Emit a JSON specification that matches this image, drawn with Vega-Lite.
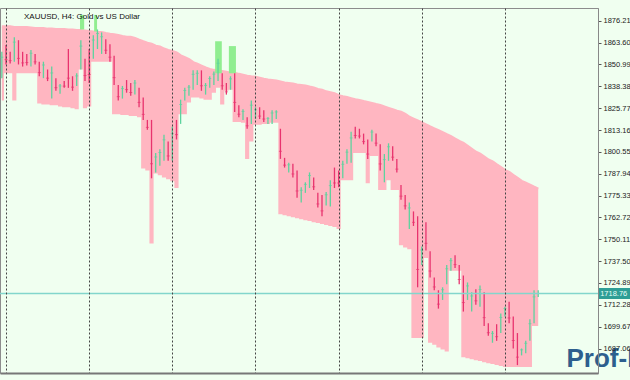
{
  "$schema": "https://vega.github.io/schema/vega-lite/v6.json",
  "width": 598,
  "height": 365,
  "autosize": {"type": "none"},
  "padding": {"left": 0, "top": 8, "right": 32, "bottom": 7},
  "background": "#F0FFF0",
  "config": {"view": {"stroke": "#8c8c8c", "strokeWidth": 1}, "axis": {"labelOverlap": false}},
  "title": {"text": "XAUUSD, H4:  Gold vs US Dollar", "anchor": "start", "frame": "group", "orient": "top", "offset": -12, "dy": 7, "dx": 24, "font": "Liberation Sans", "fontSize": 8, "fontWeight": "normal", "color": "#111111", "baseline": "alphabetic"},
  "datasets": {
    "bars": [
      {"t":0,"o":1846.9,"h":1858.3,"l":1843.1,"c":1855.2,"up":1872.8,"lo":1830.2},
      {"t":1,"o":1859.9,"h":1862.2,"l":1851.0,"c":1853.8,"up":1872.8,"lo":1845.9},
      {"t":2,"o":1856.9,"h":1858.3,"l":1851.5,"c":1853.2,"up":1872.8,"lo":1845.9},
      {"t":3,"o":1856.1,"h":1866.7,"l":1852.6,"c":1863.9,"up":1872.3,"lo":1830.2},
      {"t":4,"o":1862.2,"h":1865.0,"l":1851.0,"c":1854.5,"up":1872.3,"lo":1845.9},
      {"t":5,"o":1856.6,"h":1858.3,"l":1849.8,"c":1851.9,"up":1872.3,"lo":1845.9},
      {"t":6,"o":1855.8,"h":1857.1,"l":1850.4,"c":1852.1,"up":1872.3,"lo":1845.9},
      {"t":7,"o":1852.2,"h":1859.4,"l":1849.8,"c":1857.5,"up":1872.0,"lo":1845.9},
      {"t":8,"o":1855.9,"h":1857.1,"l":1851.0,"c":1852.5,"up":1871.7,"lo":1845.9},
      {"t":9,"o":1850.9,"h":1852.6,"l":1844.2,"c":1846.3,"up":1871.7,"lo":1828.5},
      {"t":10,"o":1845.5,"h":1852.6,"l":1843.1,"c":1850.7,"up":1871.7,"lo":1827.9},
      {"t":11,"o":1846.8,"h":1848.1,"l":1841.4,"c":1843.1,"up":1871.4,"lo":1827.9},
      {"t":12,"o":1835.9,"h":1849.8,"l":1831.3,"c":1846.1,"up":1871.4,"lo":1827.4},
      {"t":13,"o":1841.6,"h":1843.1,"l":1835.8,"c":1837.6,"up":1871.2,"lo":1827.4},
      {"t":14,"o":1835.5,"h":1839.7,"l":1834.1,"c":1838.6,"up":1871.2,"lo":1826.8},
      {"t":15,"o":1840.6,"h":1841.4,"l":1837.5,"c":1838.5,"up":1871.2,"lo":1826.3},
      {"t":16,"o":1855.4,"h":1859.9,"l":1837.5,"c":1843.1,"up":1870.9,"lo":1826.3},
      {"t":17,"o":1842.5,"h":1844.2,"l":1835.8,"c":1837.9,"up":1870.9,"lo":1825.7},
      {"t":18,"o":1840.4,"h":1845.9,"l":1838.6,"c":1844.4,"up":1870.6,"lo":1825.1},
      {"t":19,"o":1852.3,"h":1865.0,"l":1848.1,"c":1861.6,"up":1870.6,"lo":1848.1},
      {"t":20,"o":1851.7,"h":1854.3,"l":1841.4,"c":1844.6,"up":1870.3,"lo":1825.7},
      {"t":21,"o":1856.0,"h":1859.9,"l":1840.3,"c":1845.2,"up":1870.0,"lo":1826.8},
      {"t":22,"o":1857.7,"h":1867.8,"l":1854.3,"c":1865.1,"up":1869.8,"lo":1852.6},
      {"t":23,"o":1862.7,"h":1871.2,"l":1859.9,"c":1868.9,"up":1869.5,"lo":1852.6},
      {"t":24,"o":1860.2,"h":1869.5,"l":1857.1,"c":1867.0,"up":1869.5,"lo":1852.6},
      {"t":25,"o":1863.9,"h":1865.5,"l":1857.1,"c":1859.2,"up":1868.9,"lo":1852.6},
      {"t":26,"o":1860.7,"h":1862.7,"l":1852.6,"c":1855.2,"up":1868.4,"lo":1852.6},
      {"t":27,"o":1852.6,"h":1856.0,"l":1839.2,"c":1843.4,"up":1868.1,"lo":1822.3},
      {"t":28,"o":1837.4,"h":1839.2,"l":1830.2,"c":1832.4,"up":1867.8,"lo":1822.3},
      {"t":29,"o":1833.1,"h":1838.6,"l":1831.3,"c":1837.1,"up":1867.2,"lo":1821.8},
      {"t":30,"o":1840.5,"h":1842.0,"l":1834.7,"c":1836.5,"up":1866.7,"lo":1821.8},
      {"t":31,"o":1838.8,"h":1840.3,"l":1833.0,"c":1834.8,"up":1866.7,"lo":1821.2},
      {"t":32,"o":1835.7,"h":1842.0,"l":1833.6,"c":1840.3,"up":1866.1,"lo":1821.2},
      {"t":33,"o":1835.2,"h":1837.5,"l":1826.3,"c":1829.1,"up":1865.0,"lo":1820.6},
      {"t":34,"o":1829.3,"h":1831.9,"l":1819.0,"c":1822.2,"up":1864.1,"lo":1790.9},
      {"t":35,"o":1817.8,"h":1819.0,"l":1813.3,"c":1814.7,"up":1863.3,"lo":1789.8},
      {"t":36,"o":1812.2,"h":1819.0,"l":1785.3,"c":1793.7,"up":1862.7,"lo":1747.7},
      {"t":37,"o":1791.5,"h":1799.9,"l":1788.7,"c":1797.6,"up":1861.6,"lo":1788.1},
      {"t":38,"o":1795.0,"h":1802.1,"l":1792.6,"c":1800.2,"up":1861.1,"lo":1787.0},
      {"t":39,"o":1799.2,"h":1810.5,"l":1795.4,"c":1807.5,"up":1859.9,"lo":1785.8},
      {"t":40,"o":1804.4,"h":1806.6,"l":1795.4,"c":1798.2,"up":1859.1,"lo":1784.7},
      {"t":41,"o":1800.3,"h":1815.0,"l":1795.4,"c":1811.1,"up":1858.5,"lo":1783.6},
      {"t":42,"o":1816.7,"h":1819.0,"l":1807.7,"c":1810.5,"up":1857.7,"lo":1779.7},
      {"t":43,"o":1820.2,"h":1830.7,"l":1816.7,"c":1827.9,"up":1856.0,"lo":1822.3},
      {"t":44,"o":1832.0,"h":1837.5,"l":1830.2,"c":1836.0,"up":1854.9,"lo":1822.3},
      {"t":45,"o":1834.5,"h":1839.2,"l":1833.0,"c":1837.9,"up":1853.8,"lo":1829.1},
      {"t":46,"o":1839.2,"h":1847.6,"l":1836.4,"c":1845.3,"up":1852.1,"lo":1831.9},
      {"t":47,"o":1841.3,"h":1847.6,"l":1839.2,"c":1845.9,"up":1851.2,"lo":1831.9},
      {"t":48,"o":1845.2,"h":1847.6,"l":1835.8,"c":1838.7,"up":1850.1,"lo":1831.3},
      {"t":49,"o":1835.2,"h":1840.3,"l":1833.6,"c":1838.9,"up":1849.0,"lo":1830.7},
      {"t":50,"o":1839.2,"h":1844.2,"l":1837.5,"c":1842.9,"up":1848.1,"lo":1830.7},
      {"t":51,"o":1841.1,"h":1847.0,"l":1839.2,"c":1845.4,"up":1847.6,"lo":1834.7},
      {"t":52,"o":1844.6,"h":1854.3,"l":1841.4,"c":1851.7,"up":1847.3,"lo":1837.5},
      {"t":53,"o":1844.0,"h":1845.9,"l":1836.4,"c":1838.7,"up":1847.0,"lo":1827.9},
      {"t":54,"o":1838.9,"h":1840.3,"l":1833.6,"c":1835.2,"up":1846.5,"lo":1835.8},
      {"t":55,"o":1838.3,"h":1844.2,"l":1836.4,"c":1842.7,"up":1845.9,"lo":1836.4},
      {"t":56,"o":1841.4,"h":1845.9,"l":1823.5,"c":1829.1,"up":1845.9,"lo":1817.8},
      {"t":57,"o":1826.0,"h":1827.4,"l":1820.6,"c":1822.3,"up":1845.3,"lo":1817.8},
      {"t":58,"o":1820.5,"h":1825.1,"l":1819.0,"c":1823.9,"up":1844.8,"lo":1817.3},
      {"t":59,"o":1819.3,"h":1820.6,"l":1813.9,"c":1815.6,"up":1844.2,"lo":1796.5},
      {"t":60,"o":1820.1,"h":1830.2,"l":1816.7,"c":1827.5,"up":1843.9,"lo":1806.6},
      {"t":61,"o":1821.2,"h":1826.3,"l":1819.5,"c":1824.9,"up":1843.7,"lo":1816.2},
      {"t":62,"o":1824.9,"h":1826.3,"l":1819.5,"c":1821.2,"up":1843.1,"lo":1816.2},
      {"t":63,"o":1823.2,"h":1824.6,"l":1817.8,"c":1819.5,"up":1842.5,"lo":1816.7},
      {"t":64,"o":1817.7,"h":1820.6,"l":1816.7,"c":1819.9,"up":1842.0,"lo":1816.7},
      {"t":65,"o":1818.7,"h":1824.6,"l":1816.7,"c":1823.0,"up":1841.7,"lo":1817.3},
      {"t":66,"o":1820.8,"h":1824.6,"l":1819.5,"c":1823.6,"up":1841.4,"lo":1817.3},
      {"t":67,"o":1810.4,"h":1813.9,"l":1796.5,"c":1800.9,"up":1840.9,"lo":1764.5},
      {"t":68,"o":1796.0,"h":1797.1,"l":1791.5,"c":1792.9,"up":1840.3,"lo":1764.0},
      {"t":69,"o":1790.1,"h":1794.3,"l":1788.7,"c":1793.1,"up":1840.0,"lo":1763.4},
      {"t":70,"o":1792.1,"h":1793.7,"l":1785.8,"c":1787.8,"up":1839.7,"lo":1762.8},
      {"t":71,"o":1786.6,"h":1789.8,"l":1774.1,"c":1778.0,"up":1839.2,"lo":1762.3},
      {"t":72,"o":1773.5,"h":1780.2,"l":1771.3,"c":1778.4,"up":1838.9,"lo":1761.7},
      {"t":73,"o":1778.4,"h":1783.0,"l":1776.9,"c":1781.8,"up":1838.6,"lo":1761.1},
      {"t":74,"o":1781.9,"h":1788.7,"l":1779.7,"c":1786.9,"up":1838.0,"lo":1760.6},
      {"t":75,"o":1784.4,"h":1785.8,"l":1778.6,"c":1780.4,"up":1837.5,"lo":1760.0},
      {"t":76,"o":1775.2,"h":1776.9,"l":1768.4,"c":1770.5,"up":1836.6,"lo":1759.5},
      {"t":77,"o":1773.3,"h":1775.7,"l":1763.4,"c":1766.5,"up":1836.1,"lo":1758.9},
      {"t":78,"o":1771.5,"h":1777.4,"l":1769.6,"c":1775.8,"up":1835.2,"lo":1758.3},
      {"t":79,"o":1772.8,"h":1784.2,"l":1769.0,"c":1781.1,"up":1834.7,"lo":1757.8},
      {"t":80,"o":1789.1,"h":1791.5,"l":1779.7,"c":1782.6,"up":1834.1,"lo":1757.2},
      {"t":81,"o":1787.9,"h":1789.8,"l":1780.2,"c":1782.6,"up":1833.0,"lo":1756.1},
      {"t":82,"o":1787.8,"h":1795.4,"l":1785.3,"c":1793.4,"up":1832.4,"lo":1784.2},
      {"t":83,"o":1795.8,"h":1802.1,"l":1793.7,"c":1800.4,"up":1831.9,"lo":1784.2},
      {"t":84,"o":1798.8,"h":1812.2,"l":1794.3,"c":1808.6,"up":1831.3,"lo":1784.2},
      {"t":85,"o":1813.7,"h":1815.0,"l":1808.3,"c":1810.0,"up":1830.7,"lo":1799.9},
      {"t":86,"o":1812.8,"h":1813.9,"l":1808.3,"c":1809.7,"up":1830.2,"lo":1799.9},
      {"t":87,"o":1809.9,"h":1811.1,"l":1804.9,"c":1806.5,"up":1829.6,"lo":1799.9},
      {"t":88,"o":1805.5,"h":1807.7,"l":1796.5,"c":1799.3,"up":1829.1,"lo":1782.5},
      {"t":89,"o":1808.3,"h":1813.3,"l":1806.6,"c":1812.0,"up":1828.5,"lo":1798.2},
      {"t":90,"o":1809.6,"h":1811.1,"l":1803.8,"c":1805.6,"up":1827.9,"lo":1798.2},
      {"t":91,"o":1801.9,"h":1804.9,"l":1789.8,"c":1793.6,"up":1827.4,"lo":1778.6},
      {"t":92,"o":1787.1,"h":1799.3,"l":1783.0,"c":1796.1,"up":1826.5,"lo":1778.6},
      {"t":93,"o":1797.9,"h":1805.5,"l":1795.4,"c":1803.5,"up":1825.7,"lo":1784.2},
      {"t":94,"o":1802.1,"h":1803.8,"l":1795.4,"c":1797.5,"up":1824.9,"lo":1778.6},
      {"t":95,"o":1794.9,"h":1796.5,"l":1788.7,"c":1790.6,"up":1824.0,"lo":1778.6},
      {"t":96,"o":1779.7,"h":1781.4,"l":1772.9,"c":1775.0,"up":1823.5,"lo":1746.6},
      {"t":97,"o":1774.1,"h":1775.7,"l":1767.3,"c":1769.4,"up":1822.3,"lo":1745.4},
      {"t":98,"o":1759.9,"h":1771.3,"l":1756.1,"c":1768.2,"up":1820.6,"lo":1744.3},
      {"t":99,"o":1764.5,"h":1766.2,"l":1757.8,"c":1759.9,"up":1819.5,"lo":1693.2},
      {"t":100,"o":1755.2,"h":1763.4,"l":1722.4,"c":1732.7,"up":1818.4,"lo":1693.2},
      {"t":101,"o":1738.0,"h":1746.0,"l":1735.3,"c":1743.9,"up":1817.3,"lo":1693.2},
      {"t":102,"o":1756.8,"h":1760.0,"l":1743.7,"c":1747.8,"up":1816.2,"lo":1739.3},
      {"t":103,"o":1740.2,"h":1743.2,"l":1728.0,"c":1731.8,"up":1815.0,"lo":1690.4},
      {"t":104,"o":1726.6,"h":1728.0,"l":1720.7,"c":1722.6,"up":1813.9,"lo":1689.3},
      {"t":105,"o":1718.6,"h":1720.7,"l":1710.1,"c":1712.7,"up":1812.8,"lo":1687.6},
      {"t":106,"o":1716.9,"h":1722.4,"l":1715.1,"c":1721.0,"up":1811.7,"lo":1686.5},
      {"t":107,"o":1726.9,"h":1735.3,"l":1724.1,"c":1733.1,"up":1810.5,"lo":1685.4},
      {"t":108,"o":1733.8,"h":1739.3,"l":1732.0,"c":1737.8,"up":1809.4,"lo":1732.0},
      {"t":109,"o":1739.5,"h":1740.9,"l":1733.6,"c":1735.5,"up":1808.0,"lo":1732.0},
      {"t":110,"o":1733.1,"h":1735.3,"l":1724.1,"c":1726.9,"up":1806.6,"lo":1732.0},
      {"t":111,"o":1725.0,"h":1729.2,"l":1708.4,"c":1713.6,"up":1805.5,"lo":1682.0},
      {"t":112,"o":1717.6,"h":1725.2,"l":1715.1,"c":1723.2,"up":1803.8,"lo":1681.4},
      {"t":113,"o":1711.2,"h":1719.6,"l":1708.4,"c":1717.4,"up":1802.1,"lo":1680.9},
      {"t":114,"o":1719.5,"h":1721.3,"l":1712.3,"c":1714.6,"up":1800.4,"lo":1680.3},
      {"t":115,"o":1714.3,"h":1723.5,"l":1711.2,"c":1721.1,"up":1799.3,"lo":1679.8},
      {"t":116,"o":1715.7,"h":1719.6,"l":1700.0,"c":1704.9,"up":1797.6,"lo":1679.2},
      {"t":117,"o":1700.2,"h":1701.6,"l":1694.4,"c":1696.2,"up":1795.9,"lo":1678.6},
      {"t":118,"o":1692.1,"h":1697.2,"l":1690.4,"c":1695.8,"up":1794.8,"lo":1678.1},
      {"t":119,"o":1699.2,"h":1701.1,"l":1691.5,"c":1693.9,"up":1793.1,"lo":1677.5},
      {"t":120,"o":1698.8,"h":1707.3,"l":1696.0,"c":1705.0,"up":1791.5,"lo":1677.0},
      {"t":121,"o":1707.0,"h":1711.2,"l":1705.6,"c":1710.1,"up":1789.8,"lo":1676.4},
      {"t":122,"o":1711.5,"h":1714.0,"l":1701.6,"c":1704.7,"up":1788.7,"lo":1676.4},
      {"t":123,"o":1701.9,"h":1705.6,"l":1687.1,"c":1691.7,"up":1787.0,"lo":1676.4},
      {"t":124,"o":1692.3,"h":1696.0,"l":1677.5,"c":1682.1,"up":1785.3,"lo":1676.4},
      {"t":125,"o":1684.1,"h":1687.1,"l":1683.1,"c":1686.3,"up":1783.6,"lo":1676.4},
      {"t":126,"o":1686.1,"h":1691.5,"l":1684.3,"c":1690.1,"up":1782.5,"lo":1676.4},
      {"t":127,"o":1694.6,"h":1703.9,"l":1691.5,"c":1701.4,"up":1781.4,"lo":1676.4},
      {"t":128,"o":1706.4,"h":1720.7,"l":1701.6,"c":1716.9,"up":1780.2,"lo":1700.0},
      {"t":129,"o":1717.8,"h":1720.7,"l":1716.8,"c":1718.8,"up":1779.1,"lo":1700.0}
    ],
    "highlight": [
      {"a":18.8,"b":19.8,"top":1879.6,"bot":1871.2},
      {"a":22.2,"b":22.9,"top":1879.6,"bot":1870.0},
      {"a":51.3,"b":52.9,"top":1864.4,"bot":1845.9},
      {"a":54.6,"b":56.3,"top":1861.6,"bot":1845.9}
    ],
    "last": [{"p":1718.76,"label":"1718.76"}],
    "mark": [{"w":"Prof-F"}]
  },
  "layer": [
    {
      "data": {"name": "bars"},
      "mark": {"type": "area", "interpolate": "step", "color": "#FFB6C1", "opacity": 1},
      "encoding": {
        "x": {"field": "t", "type": "quantitative", "scale": {"domain": [-0.443, 143.38], "nice": false, "zero": false},
              "axis": {"orient": "bottom", "values": [1,21,41,61,81,101,121], "tickCount": 20, "grid": true, "gridDash": [2,2], "gridColor": "#444444", "gridOpacity": 1, "gridWidth": 1, "labels": false, "ticks": false, "domain": true, "domainColor": "#777777", "domainWidth": 2, "title": null, "zindex": 1}},
        "y": {"field": "up", "type": "quantitative", "scale": {"domain": [1675.83, 1880.7], "nice": false, "zero": false},
              "axis": {"orient": "right", "values": [1876.21,1863.60,1850.99,1838.38,1825.77,1813.16,1800.55,1787.94,1775.33,1762.72,1750.11,1737.50,1724.89,1712.28,1699.67,1687.06], "tickCount": 30, "format": ".2f", "grid": false, "title": null, "labelFont": "Liberation Sans", "labelFontSize": 7.5, "labelColor": "#222222", "tickSize": 3, "tickColor": "#555555", "domainColor": "#888888", "labelPadding": 2, "labelOverlap": false, "labelBound": false, "labelFlush": false, "zindex": 2}},
        "y2": {"field": "lo"}
      }
    },
    {
      "data": {"name": "bars"},
      "mark": {"type": "line", "interpolate": "linear", "color": "#FFB6C1", "strokeWidth": 3},
      "encoding": {
        "x": {"field": "t", "type": "quantitative", "title": null, "scale": {"domain": [-0.443, 143.38], "nice": false, "zero": false}},
        "y": {"field": "up", "type": "quantitative", "title": null, "scale": {"domain": [1675.83, 1880.7], "nice": false, "zero": false}}
      }
    },
    {
      "data": {"name": "highlight"},
      "mark": {"type": "rect", "color": "#90EE90", "opacity": 1},
      "encoding": {
        "x": {"field": "a", "type": "quantitative", "title": null, "scale": {"domain": [-0.443, 143.38], "nice": false, "zero": false}},
        "x2": {"field": "b"},
        "y": {"field": "top", "type": "quantitative", "title": null, "scale": {"domain": [1675.83, 1880.7], "nice": false, "zero": false}},
        "y2": {"field": "bot"}
      }
    },
    {
      "data": {"name": "bars"},
      "mark": {"type": "rule", "strokeWidth": 1.3},
      "encoding": {
        "x": {"field": "t", "type": "quantitative", "title": null, "scale": {"domain": [-0.443, 143.38], "nice": false, "zero": false}},
        "y": {"field": "h", "type": "quantitative", "title": null, "scale": {"domain": [1675.83, 1880.7], "nice": false, "zero": false}},
        "y2": {"field": "l"},
        "color": {"condition": {"test": "datum.c >= datum.o", "value": "#5DD39E"}, "value": "#E8336E"}
      }
    },
    {
      "data": {"name": "bars"},
      "mark": {"type": "tick", "orient": "horizontal", "size": 3, "thickness": 1},
      "encoding": {
        "x": {"field": "t", "type": "quantitative", "title": null, "scale": {"domain": [-0.443, 143.38], "nice": false, "zero": false}},
        "y": {"field": "c", "type": "quantitative", "title": null, "scale": {"domain": [1675.83, 1880.7], "nice": false, "zero": false}},
        "color": {"condition": {"test": "datum.c >= datum.o", "value": "#5DD39E"}, "value": "#E8336E"}
      }
    },
    {
      "data": {"name": "last"},
      "mark": {"type": "rule", "color": "#82D6CC", "strokeWidth": 1.5},
      "encoding": {
        "y": {"field": "p", "type": "quantitative", "title": null, "scale": {"domain": [1675.83, 1880.7], "nice": false, "zero": false}}
      }
    },
    {
      "data": {"name": "mark"},
      "mark": {"type": "text", "align": "left", "baseline": "alphabetic", "font": "Liberation Sans", "fontWeight": "bold", "fontSize": 26, "color": "#2D5F8E", "clip": false},
      "encoding": {
        "x": {"datum": 135.8, "type": "quantitative", "title": null, "scale": {"domain": [-0.443, 143.38], "nice": false, "zero": false}},
        "y": {"datum": 1676.3, "type": "quantitative", "title": null, "scale": {"domain": [1675.83, 1880.7], "nice": false, "zero": false}},
        "text": {"field": "w"}
      }
    },
    {
      "data": {"name": "last"},
      "mark": {"type": "bar", "orient": "horizontal", "size": 11, "color": "#2E9E96", "clip": false},
      "encoding": {
        "x": {"datum": 143.5, "type": "quantitative", "title": null, "scale": {"domain": [-0.443, 143.38], "nice": false, "zero": false}},
        "x2": {"datum": 151.8},
        "y": {"field": "p", "type": "quantitative", "title": null, "scale": {"domain": [1675.83, 1880.7], "nice": false, "zero": false}}
      }
    },
    {
      "data": {"name": "last"},
      "mark": {"type": "text", "align": "left", "baseline": "middle", "font": "Liberation Sans", "fontSize": 7.5, "color": "#E8FFF8", "clip": false},
      "encoding": {
        "x": {"datum": 143.9, "type": "quantitative", "title": null, "scale": {"domain": [-0.443, 143.38], "nice": false, "zero": false}},
        "y": {"field": "p", "type": "quantitative", "title": null, "scale": {"domain": [1675.83, 1880.7], "nice": false, "zero": false}},
        "text": {"field": "label"}
      }
    }
  ]
}
